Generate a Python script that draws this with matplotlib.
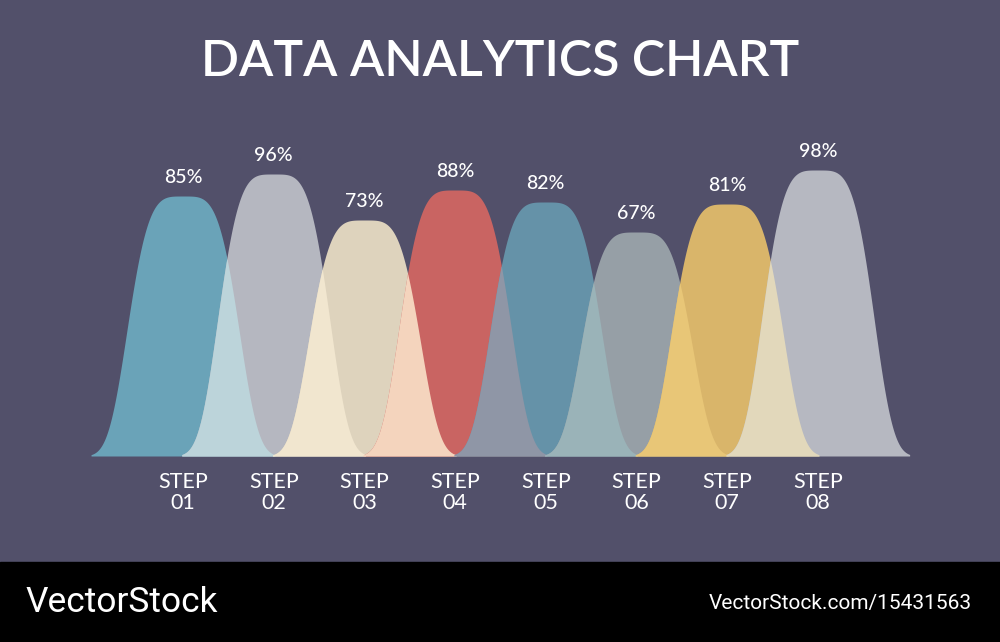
import numpy as np
import matplotlib
matplotlib.use("Agg")
import matplotlib.pyplot as plt

values = [85, 96, 73, 88, 82, 67, 81, 98]
steps = ["STEP\n01", "STEP\n02", "STEP\n03", "STEP\n04", "STEP\n05", "STEP\n06", "STEP\n07", "STEP\n08"]
colors = ["#6aa3b8", "#b5b7c0", "#ded3bd", "#c96462", "#6592a8", "#969fa6", "#d9b56a", "#b6b8c1"]
overlap_colors = ["#bcd4da", "#f1e6cf", "#f4d4bd", "#8f96a6", "#9ab3b8", "#e8c677", "#e2d8bb"]

fig = plt.figure(figsize=(10, 6.42), dpi=100)
fig.patch.set_facecolor("#52506a")
ax = fig.add_axes([0, 0, 1, 1])
ax.set_xlim(0, 1000)
ax.set_ylim(642, 0)
ax.axis("off")

base = 456
centers = 183 + 90.7 * np.arange(len(values))
hw = 92
x = np.linspace(0, 1000, 3000)

def height(v):
    return 90 + 2.0 * v

def bell(c, v):
    t = np.abs(x - c) / hw
    f = np.exp(-(t / 0.66) ** 4)
    f[t > 1] = 0
    return height(v) * f

curves = [bell(c, v) for c, v in zip(centers, values)]
for i, (cv, col) in enumerate(zip(curves, colors)):
    m = cv > 0.5
    ax.fill_between(x[m], base, base - cv[m], color=col, lw=0, zorder=2 + i)
for i in range(len(values) - 1):
    inter = np.minimum(curves[i], curves[i + 1])
    m = inter > 0.5
    ax.fill_between(x[m], base, base - inter[m], color=overlap_colors[i], lw=0, zorder=20)

for c, v, s in zip(centers, values, steps):
    ax.text(c, base - height(v) - 10, f"{v}%", color="white", ha="center", va="bottom",
            fontsize=14, fontfamily="Lato", fontweight="medium", zorder=30)
    ax.text(c, 472, s, color="white", ha="center", va="top", fontsize=15.5,
            fontfamily="Lato", linespacing=1.05, zorder=30)

ax.text(500, 62, "DATA ANALYTICS CHART", color="white", ha="center", va="center",
        fontsize=36, fontfamily="Lato", fontweight="semibold")

ax.add_patch(plt.Rectangle((0, 562), 1000, 80, color="black", zorder=40))
ax.text(25, 602, "VectorStock", color="white", ha="left", va="center", fontsize=25.5,
        fontfamily="Roboto", zorder=41)
ax.text(972, 604, "VectorStock.com/15431563", color="white", ha="right", va="center",
        fontsize=15, fontfamily="Roboto", zorder=41)

fig.savefig("out.png", dpi=100, facecolor=fig.get_facecolor())
